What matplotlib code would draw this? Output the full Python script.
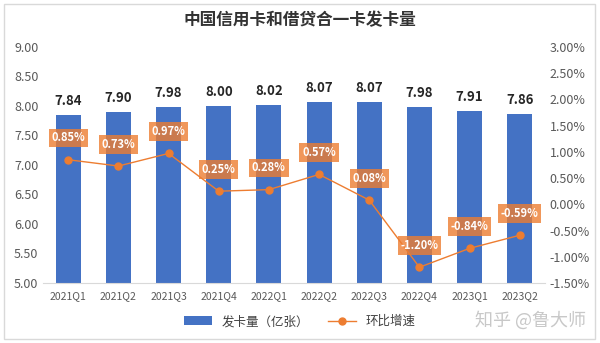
import numpy as np
import matplotlib.pyplot as plt
from matplotlib.patches import Rectangle

plt.rcParams['font.family'] = ['Noto Sans CJK SC', 'DejaVu Sans']

# Quarterly card issuance (100 million cards) and QoQ growth (%)
quarters = ['2021Q1', '2021Q2', '2021Q3', '2021Q4', '2022Q1',
            '2022Q2', '2022Q3', '2022Q4', '2023Q1', '2023Q2']
cards = [7.84, 7.90, 7.98, 8.00, 8.02, 8.07, 8.07, 7.98, 7.91, 7.86]
growth = [0.85, 0.73, 0.97, 0.25, 0.28, 0.57, 0.08, -1.20, -0.84, -0.59]

blue = '#4472C4'
orange = '#ED7D31'
x = np.arange(len(quarters))

fig = plt.figure(figsize=(6, 3.43), dpi=100)
fig.patches.append(Rectangle((0.006, 0.012), 0.985, 0.975, transform=fig.transFigure,
                             fill=False, edgecolor='#d9d9d9', linewidth=1))

ax = fig.add_axes([0.072, 0.175, 0.836, 0.688])
ax.bar(x, cards, width=0.5, color=blue, label='发卡量（亿张）', zorder=2)
ax.set_ylim(5, 9)
ax.set_yticks(np.arange(5, 9.01, 0.5))
ax.set_yticklabels([f'{v:.2f}' for v in np.arange(5, 9.01, 0.5)])
ax.set_xlim(-0.5, len(quarters) - 0.5)
ax.set_xticks(x)
ax.set_xticklabels(quarters)
for s in ['top', 'right', 'left']:
    ax.spines[s].set_visible(False)
ax.spines['bottom'].set_color('#d9d9d9')
ax.tick_params(length=0, labelsize=9, colors='#595959')
ax.tick_params(axis='x', labelsize=7.5, pad=6)

for xi, v in zip(x, cards):
    ax.text(xi, v + 0.12, f'{v:.2f}', ha='center', va='bottom',
            fontsize=9.5, fontweight='bold', color='#262626')

ax2 = ax.twinx()
ax2.plot(x, growth, color=orange, marker='o', markersize=5, linewidth=1,
         label='环比增速', zorder=3)
ax2.set_ylim(-1.5, 3.0)
ax2.set_yticks(np.arange(-1.5, 3.01, 0.5))
ax2.set_yticklabels([f'{v:.2f}%' for v in np.arange(-1.5, 3.01, 0.5)])
for s in ['top', 'right', 'left', 'bottom']:
    ax2.spines[s].set_visible(False)
ax2.tick_params(length=0, labelsize=9, colors='#595959')

for xi, v in zip(x, growth):
    ax2.annotate(f'{v:.2f}%', (xi, v), xytext=(0, 11), textcoords='offset points',
                 ha='center', va='bottom', fontsize=8, fontweight='bold', color='white',
                 bbox=dict(boxstyle='square,pad=0.25', facecolor=orange,
                           edgecolor='none', alpha=0.8))

fig.text(0.5, 0.94, '中国信用卡和借贷合一卡发卡量', ha='center', va='center',
         fontsize=12, fontweight='bold', color='#333333')

h1, l1 = ax.get_legend_handles_labels()
h2, l2 = ax2.get_legend_handles_labels()
fig.legend(h1 + h2, l1 + l2, loc='center', bbox_to_anchor=(0.5, 0.062), ncol=2,
           frameon=False, fontsize=9, handlelength=2.2, columnspacing=1.5,
           labelcolor='#404040')

fig.text(0.977, 0.065, '知乎 @鲁大师', ha='right', va='center', fontsize=13,
         color='#c8c8c8')

fig.savefig('out.png', dpi=100)
